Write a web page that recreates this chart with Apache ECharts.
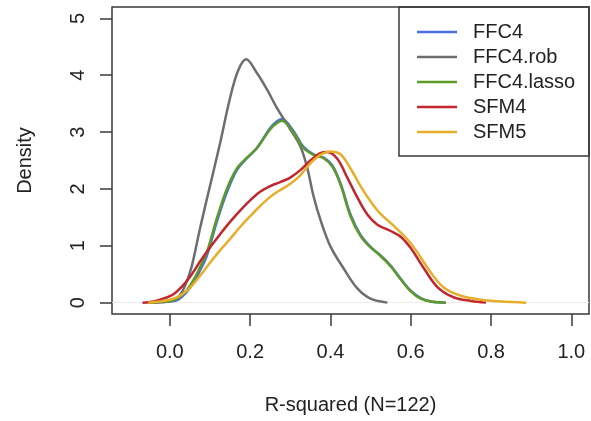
<!DOCTYPE html>
<html>
<head>
<meta charset="utf-8">
<style>
html, body { margin: 0; padding: 0; background: #fff; }
#main { width: 591px; height: 421px; }
</style>
</head>
<body>
<div id="main"></div>
<script src="https://cdn.jsdelivr.net/npm/echarts@6/dist/echarts.min.js"></script>
<script>
// tick labels
var xTicks = [0, 0.2, 0.4, 0.6, 0.8, 1.0];
var yTicks = [0, 1, 2, 3, 4, 5];

var names = ['FFC4', 'FFC4.rob', 'FFC4.lasso', 'SFM4', 'SFM5'];
var colors = ['#4a6fe3', '#6e6e6e', '#5e9a28', '#c1272d', '#e8ad2b'];

// FFC4 / FFC4.lasso (almost the same curve)
var ffcX = [-0.055, -0.025, 0, 0.02, 0.04, 0.06, 0.075, 0.092, 0.117, 0.142, 0.167, 0.192, 0.217, 0.25, 0.267, 0.279, 0.308, 0.333, 0.358, 0.383, 0.404, 0.425, 0.45, 0.475, 0.5, 0.525, 0.55, 0.575, 0.6, 0.625, 0.65, 0.6875];
var ffcY = [0, 0.01, 0.02, 0.05, 0.17, 0.36, 0.56, 0.82, 1.42, 1.94, 2.33, 2.54, 2.72, 3.07, 3.19, 3.23, 3.02, 2.74, 2.61, 2.55, 2.42, 2.1, 1.55, 1.19, 0.98, 0.83, 0.65, 0.42, 0.21, 0.08, 0.02, 0];
var lassoY = [0, 0.01, 0.03, 0.08, 0.2, 0.41, 0.62, 0.88, 1.48, 2.0, 2.36, 2.55, 2.72, 3.05, 3.16, 3.2, 2.99, 2.72, 2.6, 2.54, 2.4, 2.08, 1.52, 1.17, 0.97, 0.82, 0.64, 0.41, 0.2, 0.07, 0.02, 0];

// FFC4.rob
var robX = [-0.04, -0.015, 0.01, 0.025, 0.04, 0.055, 0.075, 0.1, 0.125, 0.15, 0.17, 0.19, 0.217, 0.242, 0.267, 0.3, 0.325, 0.342, 0.358, 0.375, 0.4, 0.433, 0.467, 0.5, 0.542];
var robY = [0, 0.01, 0.04, 0.13, 0.33, 0.65, 1.3, 2.05, 2.8, 3.6, 4.08, 4.28, 4.04, 3.75, 3.42, 3.05, 2.75, 2.38, 1.87, 1.46, 0.99, 0.6, 0.25, 0.07, 0];

// SFM4
var sfm4X = [-0.068, -0.04, -0.008, 0.01, 0.03, 0.05, 0.075, 0.1, 0.125, 0.15, 0.175, 0.2, 0.225, 0.25, 0.275, 0.3, 0.325, 0.35, 0.375, 0.392, 0.417, 0.442, 0.467, 0.492, 0.517, 0.55, 0.575, 0.6, 0.633, 0.667, 0.708, 0.75, 0.7875];
var sfm4Y = [0, 0.02, 0.09, 0.15, 0.28, 0.45, 0.72, 0.97, 1.2, 1.42, 1.62, 1.8, 1.95, 2.05, 2.12, 2.2, 2.33, 2.5, 2.63, 2.65, 2.53, 2.2, 1.85, 1.55, 1.37, 1.26, 1.16, 0.96, 0.6, 0.27, 0.09, 0.03, 0];

// SFM5
var sfm5X = [-0.054, -0.025, 0, 0.025, 0.05, 0.075, 0.1, 0.125, 0.15, 0.175, 0.2, 0.225, 0.25, 0.275, 0.3, 0.325, 0.35, 0.375, 0.4, 0.425, 0.45, 0.475, 0.5, 0.525, 0.558, 0.592, 0.617, 0.65, 0.683, 0.725, 0.775, 0.825, 0.8875];
var sfm5Y = [0, 0.02, 0.05, 0.12, 0.26, 0.47, 0.7, 0.92, 1.12, 1.33, 1.52, 1.7, 1.86, 1.98, 2.09, 2.24, 2.45, 2.6, 2.66, 2.61, 2.36, 2.05, 1.78, 1.56, 1.35, 1.11, 0.88, 0.53, 0.26, 0.12, 0.05, 0.02, 0];

function pairs(xs, ys) {
    var out = [];
    for (var i = 0; i < xs.length; i++) out.push([xs[i], ys[i]]);
    return out;
}

var curves = [
    pairs(ffcX, ffcY),
    pairs(robX, robY),
    pairs(ffcX, lassoY),
    pairs(sfm4X, sfm4Y),
    pairs(sfm5X, sfm5Y)
];

var FONT = 'Liberation Sans, Arial, sans-serif';
var INK = '#3a3a3a';

var chart = echarts.init(document.getElementById('main'));

var series = names.map(function (n, i) {
    var s = {
        name: n,
        type: 'line',
        data: curves[i],
        symbol: 'none',
        smooth: 0.35,
        lineStyle: { color: colors[i], width: 2.5 },
        itemStyle: { color: colors[i] },
        z: 3 + i
    };
    if (i === 0) {
        // faint zero line
        s.markLine = {
            silent: true,
            symbol: 'none',
            label: { show: false },
            lineStyle: { color: '#ececec', width: 1, type: 'solid' },
            data: [{ yAxis: 0 }],
            z: 1
        };
    }
    return s;
});

var option = {
    backgroundColor: '#fff',
    animation: false,
    grid: {
        left: 112, top: 7, width: 477, height: 307,
        show: true, borderColor: INK, borderWidth: 1.5, backgroundColor: 'transparent'
    },
    xAxis: {
        type: 'value',
        min: -0.144, max: 1.044,
        name: 'R-squared (N=122)',
        nameLocation: 'middle',
        nameGap: 81,
        nameTextStyle: { fontFamily: FONT, fontSize: 20, color: '#222' },
        axisLine: { show: false, onZero: false },
        splitLine: { show: false },
        axisTick: { show: true, inside: false, length: 12, customValues: xTicks, lineStyle: { color: INK, width: 1.5 } },
        axisLabel: {
            customValues: xTicks,
            margin: 28,
            fontFamily: FONT, fontSize: 20, color: '#222',
            formatter: function (v) { return v.toFixed(1); }
        }
    },
    yAxis: {
        type: 'value',
        min: -0.2, max: 5.2,
        name: 'Density',
        nameLocation: 'middle',
        nameGap: 77,
        nameRotate: 90,
        nameTextStyle: { fontFamily: FONT, fontSize: 20, color: '#222' },
        axisLine: { show: false, onZero: false },
        splitLine: { show: false },
        axisTick: { show: true, inside: false, length: 12, customValues: yTicks, lineStyle: { color: INK, width: 1.5 } },
        axisLabel: {
            customValues: yTicks,
            rotate: 90,
            margin: 24,
            fontFamily: FONT, fontSize: 20, color: '#222'
        }
    },
    legend: {
        data: names,
        orient: 'vertical',
        left: 417, top: 22,
        padding: 0,
        icon: 'path://M0,0 L40,0 L40,2.5 L0,2.5 Z',
        itemWidth: 40, itemHeight: 2.5, itemGap: 5,
        textStyle: { fontFamily: FONT, fontSize: 20, lineHeight: 20, color: '#222', padding: [0, 0, 0, 11] },
        selectedMode: false
    },
    graphic: [{
        type: 'rect',
        shape: { x: 399, y: 7, width: 190, height: 149 },
        style: { fill: 'none', stroke: INK, lineWidth: 1.5 },
        silent: true,
        z: 10
    }],
    series: series
};

chart.setOption(option);
</script>
</body>
</html>
